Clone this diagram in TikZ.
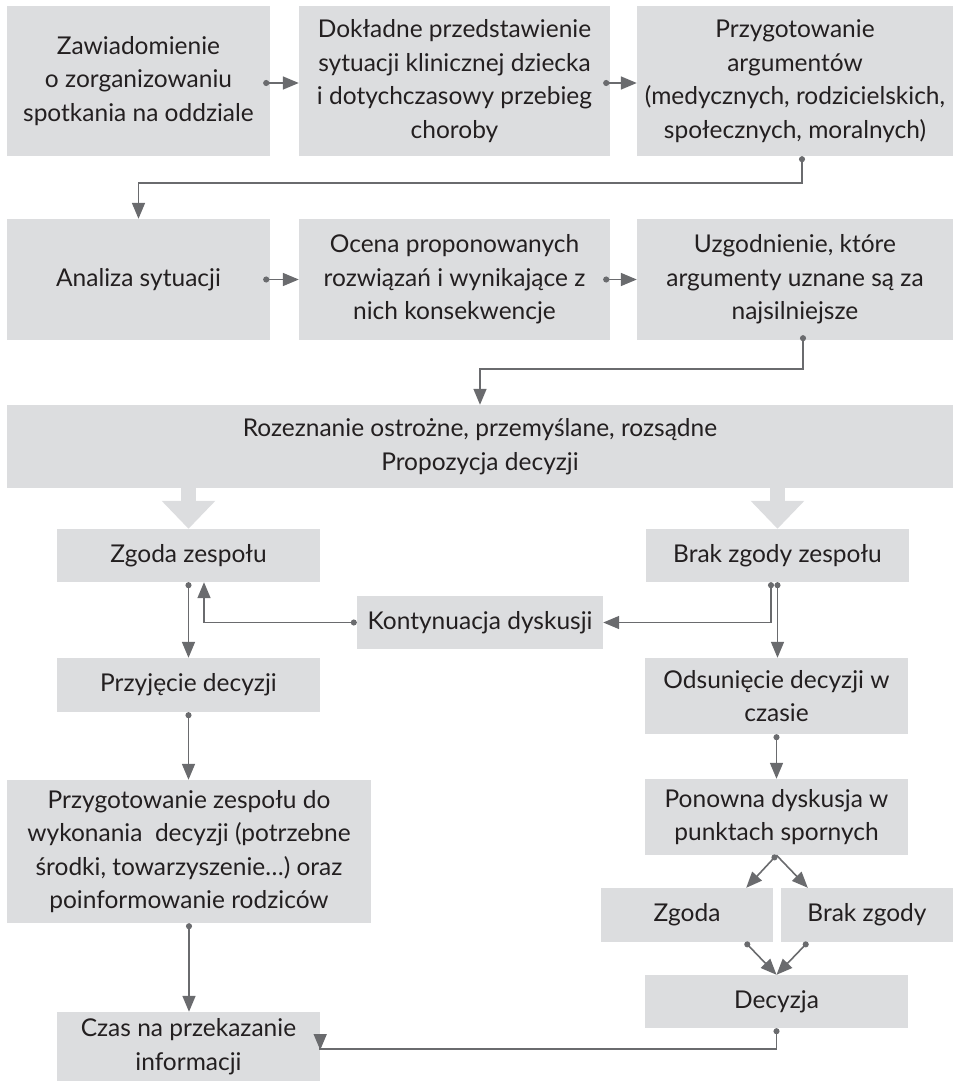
\documentclass[tikz,border=0pt]{standalone}
\usepackage{fontspec}
\setmainfont{Lato}
\usetikzlibrary{arrows.meta,calc}
\definecolor{boxfill}{HTML}{DCDDDF}
\definecolor{arrowgray}{HTML}{6A6B6E}
\definecolor{txt}{HTML}{231F20}
\tikzset{
  box/.style={rectangle, fill=boxfill, inner sep=0pt, align=center, text=txt,
    font=\fontsize{24.5}{33.5}\selectfont},
  conn/.style={draw=arrowgray, line width=1.6pt,
    arrows={Circle[length=6pt]-Triangle[length=16pt,width=13pt]}},
  plain/.style={draw=arrowgray, line width=1.6pt,
    arrows={-Triangle[length=16pt,width=13pt]}},
  blockarrow/.style={draw=boxfill, line width=15pt,
    arrows={-Triangle[length=28pt,width=52pt]}}
}
\begin{document}
\begin{tikzpicture}[x=1pt,y=-1pt]
\useasboundingbox (0,0) rectangle (954,1081);
% row 1
\node[box, minimum width=263pt, minimum height=150pt] (b1) at (138.5,81)
  {Zawiadomienie\\o zorganizowaniu\\spotkania na oddziale};
\node[box, minimum width=311pt, minimum height=150pt] (b2) at (454.5,81)
  {Dokładne przedstawienie\\sytuacji klinicznej dziecka\\i dotychczasowy przebieg\\choroby};
\node[box, minimum width=316pt, minimum height=150pt] (b3) at (795,81)
  {Przygotowanie\\argumentów\\(medycznych, rodzicielskich,\\społecznych, moralnych)};
% row 2
\node[box, minimum width=263pt, minimum height=121pt] (b4) at (138.5,279.5)
  {Analiza sytuacji};
\node[box, minimum width=311pt, minimum height=121pt] (b5) at (454.5,279.5)
  {Ocena proponowanych\\rozwiązań i wynikające z\\nich konsekwencje};
\node[box, minimum width=316pt, minimum height=121pt] (b6) at (795,279.5)
  {Uzgodnienie, które\\argumenty uznane są za\\najsilniejsze};
% big box
\node[box, minimum width=946pt, minimum height=83pt] (big) at (480,446.5)
  {Rozeznanie ostrożne, przemyślane, rozsądne\\Propozycja decyzji};
% left column
\node[box, minimum width=263pt, minimum height=53pt] (zz) at (188.5,555.5) {Zgoda zespołu};
\node[box, minimum width=263pt, minimum height=54pt] (pd) at (188.5,685) {Przyjęcie decyzji};
\node[box, minimum width=364pt, minimum height=143pt] (pz) at (189,851.5)
  {Przygotowanie zespołu do\\wykonania\ \ decyzji (potrzebne\\środki, towarzyszenie…) oraz\\poinformowanie rodziców};
\node[box, minimum width=263pt, minimum height=69pt] (czas) at (188.5,1046.5)
  {Czas na przekazanie\\informacji};
% middle
\node[box, minimum width=246pt, minimum height=53pt] (kd) at (480,622.5) {Kontynuacja dyskusji};
% right column
\node[box, minimum width=263pt, minimum height=53pt] (bz) at (777.5,555.5) {Brak zgody zespołu};
\node[box, minimum width=263pt, minimum height=76pt] (od) at (776.5,696)
  {Odsunięcie decyzji w\\czasie};
\node[box, minimum width=263pt, minimum height=76pt] (pon) at (776.5,817)
  {Ponowna dyskusja w\\punktach spornych};
\node[box, minimum width=172pt, minimum height=54pt] (zg) at (687,915) {Zgoda};
\node[box, minimum width=172pt, minimum height=54pt] (bzg) at (867,915) {Brak zgody};
\node[box, minimum width=263pt, minimum height=53pt] (dec) at (776.5,1001.5) {Decyzja};

% connectors row 1
\draw[conn] ([xshift=-7pt,yshift=-2pt]b1.east) -- ([yshift=-2pt]b2.west);
\draw[conn] ([xshift=-7pt,yshift=-2pt]b2.east) -- ([yshift=-2pt]b3.west);
\draw[conn] ([xshift=7pt]b3.south) -- ++(0,27) -| (b4.north);
% row 2
\draw[conn] ([xshift=-7pt]b4.east) -- (b5.west);
\draw[conn] ([xshift=-7pt]b5.east) -- (b6.west);
\draw[conn] ([xshift=8pt,yshift=5pt]b6.south) -- ++(0,34) -| (big.north);
% block arrows
\draw[blockarrow] (big.south -| zz.north) -- (zz.north);
\draw[blockarrow] (big.south -| bz.north) -- (bz.north);
% left
\draw[conn] (zz.south) -- (pd.north);
\draw[conn] (kd.west) -| ([xshift=15.5pt]zz.south);
\draw[conn] (pd.south) -- (pd.south |- pz.north);
\draw[conn] (pz.south) -- (pz.south |- czas.north);
% right
\draw[conn] ([xshift=-6.5pt]bz.south) |- (kd.east);
\draw[conn] (bz.south) -- (bz.south |- od.north);
\draw[conn] (od.south) -- (pon.north);
\draw[conn] (pon.south) -- ([xshift=-27pt]zg.north east);
\draw[plain] (pon.south) -- ([xshift=27pt]bzg.north west);
\draw[conn] ([xshift=-28pt]zg.south east) -- (dec.north);
\draw[conn] ([xshift=27pt]bzg.south west) -- (dec.north);
\draw[conn] (dec.south) -- ++(0,21) -| ([yshift=-3.5pt]czas.east);
\end{tikzpicture}
\end{document}
